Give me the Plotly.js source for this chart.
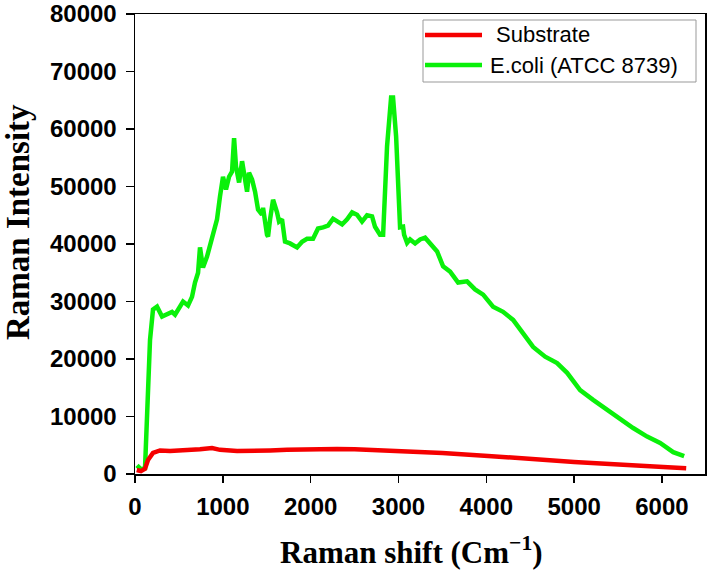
<!DOCTYPE html>
<html>
<head>
<meta charset="utf-8">
<script src="https://cdn.plot.ly/plotly-3.0.1.min.js"></script>
<style>html,body{margin:0;padding:0;background:#fff;}#chart{width:709px;height:570px;}</style>
</head>
<body>
<div id="chart"></div>
<script>
// Raman shift (cm^-1) and intensity
var ecoliShift = [23, 68, 114, 148, 171, 205, 251, 308, 364, 421, 456, 513, 547, 604, 649, 683, 718, 740, 774, 820, 877, 934, 968, 1002, 1036, 1071, 1105, 1128, 1150, 1185, 1219, 1253, 1276, 1298, 1333, 1367, 1401, 1446, 1458, 1503, 1515, 1538, 1572, 1617, 1640, 1674, 1708, 1765, 1845, 1902, 1959, 2027, 2084, 2141, 2198, 2255, 2312, 2358, 2415, 2472, 2528, 2585, 2642, 2699, 2733, 2790, 2825, 2847, 2870, 2916, 2938, 2973, 2995, 3018, 3052, 3064, 3098, 3132, 3189, 3246, 3303, 3360, 3440, 3508, 3588, 3679, 3781, 3872, 3964, 4077, 4191, 4305, 4419, 4533, 4670, 4806, 4920, 5068, 5216, 5376, 5524, 5672, 5831, 5979, 6128, 6253];
var ecoliIntensity = [1500, 800, 1000, 12000, 23300, 28600, 29100, 27400, 27700, 28200, 27700, 29400, 30000, 29300, 30800, 33300, 35000, 39400, 35900, 37800, 40800, 44300, 48300, 51700, 49500, 51700, 52600, 58400, 53500, 50700, 54400, 51200, 49100, 52400, 51200, 49100, 46000, 45100, 46300, 41600, 41300, 44300, 47700, 45500, 43900, 44300, 40400, 40100, 39400, 40400, 40900, 40900, 42700, 42900, 43200, 44400, 43900, 43400, 44300, 45500, 45100, 43900, 45000, 44800, 43000, 41600, 41600, 49500, 57000, 65500, 65500, 58700, 48300, 42900, 43000, 41600, 40200, 40800, 40100, 40800, 41100, 40200, 38700, 36100, 35200, 33300, 33500, 32100, 31200, 29100, 28200, 26800, 24600, 22100, 20400, 19300, 17600, 14600, 12900, 11200, 9400, 8000, 6500, 5400, 3800, 3100];

var substrateShift = [20, 68, 114, 148, 205, 285, 399, 592, 740, 877, 968, 1162, 1344, 1538, 1731, 1913, 2107, 2300, 2500, 2800, 2995, 3500, 4020, 5000, 6014, 6276];
var substrateIntensity = [700, 500, 900, 2440, 3660, 4100, 4000, 4100, 4300, 4500, 4200, 4000, 4000, 4100, 4200, 4300, 4350, 4350, 4300, 4150, 4000, 3650, 3140, 2090, 1220, 1000];

var seriesNames = ['Substrate', 'E.coli (ATCC 8739)'];
var xTickVals = [0, 1000, 2000, 3000, 4000, 5000, 6000];
var yTickVals = [0, 10000, 20000, 30000, 40000, 50000, 60000, 70000, 80000];

var green = 'rgb(10,240,10)';
var red = 'rgb(245,0,0)';

var traces = [
  {x: ecoliShift, y: ecoliIntensity, type: 'scatter', mode: 'lines', name: seriesNames[1],
   line: {color: green, width: 4.5}, showlegend: false},
  {x: substrateShift, y: substrateIntensity, type: 'scatter', mode: 'lines', name: seriesNames[0],
   line: {color: red, width: 4.5}, showlegend: false}
];

var W = 570, H = 460, L = 135, T = 14;
function px(xp) { return (xp - L) / W; }
function py(yp) { return (T + H - yp) / H; }

var tickFont = {family: 'Liberation Sans, Arial, sans-serif', size: 24, color: '#000', weight: 'bold'};
var xTitleFont = {family: 'Liberation Serif, Times New Roman, serif', size: 31, color: '#000', weight: 'bold'};
var yTitleFont = {family: 'Liberation Serif, Times New Roman, serif', size: 33, color: '#000', weight: 'bold'};
var legFont = {family: 'Liberation Sans, Arial, sans-serif', size: 22, color: '#000'};

var layout = {
  width: 709, height: 570,
  margin: {l: L, r: 4, t: T, b: 96},
  paper_bgcolor: '#fff', plot_bgcolor: '#fff',
  showlegend: false,
  xaxis: {
    range: [0, 6490], tickvals: xTickVals, ticktext: xTickVals.map(String),
    showgrid: false, zeroline: false, showline: true, mirror: true,
    linecolor: '#000', linewidth: 1.5, ticks: 'outside', ticklen: 7, tickwidth: 1.5, tickcolor: '#000',
    tickfont: tickFont, ticklabelstandoff: 4
  },
  yaxis: {
    range: [0, 80000], tickvals: yTickVals, ticktext: yTickVals.map(String),
    showgrid: false, zeroline: false, showline: true, mirror: true,
    linecolor: '#000', linewidth: 1.5, ticks: 'outside', ticklen: 8, tickwidth: 1.5, tickcolor: '#000',
    tickfont: tickFont, ticklabelstandoff: 4
  },
  shapes: [
    {type: 'rect', xref: 'paper', yref: 'paper', x0: px(423), x1: px(696), y0: py(82), y1: py(20),
     line: {color: '#999', width: 1}, fillcolor: '#fff', layer: 'above'},
    {type: 'line', xref: 'paper', yref: 'paper', x0: px(425), x1: px(482), y0: py(35), y1: py(35),
     line: {color: red, width: 4.5}},
    {type: 'line', xref: 'paper', yref: 'paper', x0: px(425), x1: px(482), y0: py(65), y1: py(65),
     line: {color: green, width: 4.5}}
  ],
  annotations: [
    {text: seriesNames[0], xref: 'paper', yref: 'paper', x: px(494), y: py(35), xanchor: 'left', yanchor: 'middle',
     showarrow: false, font: legFont},
    {text: seriesNames[1], xref: 'paper', yref: 'paper', x: px(488), y: py(65), xanchor: 'left', yanchor: 'middle',
     showarrow: false, font: legFont},
    {text: 'Raman shift (Cm<sup>\u22121</sup>)', xref: 'paper', yref: 'paper', x: px(411), y: py(550),
     xanchor: 'center', yanchor: 'middle', showarrow: false, font: xTitleFont},
    {text: 'Raman Intensity', xref: 'paper', yref: 'paper', x: px(18), y: py(222), textangle: -90,
     xanchor: 'center', yanchor: 'middle', showarrow: false, font: yTitleFont}
  ]
};

Plotly.newPlot('chart', traces, layout, {displayModeBar: false, staticPlot: true});
</script>
</body>
</html>
